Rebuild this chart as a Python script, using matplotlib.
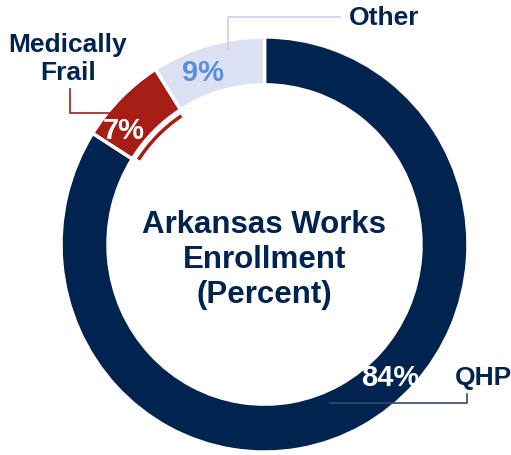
import numpy as np
import matplotlib.pyplot as plt
from matplotlib.patches import Arc

# data
labels = ['QHP', 'Medically Frail', 'Other']
values = [84, 7, 9]
colors = ['#00234f', '#a51d14', '#dbe1f2']
pct_colors = ['white', 'white', '#5b8fd6']
title = 'Arkansas Works\nEnrollment\n(Percent)'

W, H = 511, 455
S = 1.02  # the donut is a little taller than wide

fig = plt.figure(figsize=(W / 100, H / 100), dpi=100)
ax = fig.add_axes([0, 0, 1, 1])

plt.rcParams['font.family'] = ['Liberation Sans', 'DejaVu Sans']


def py(y):
    # pixel row (from top) to data y
    return (H - y) / S


cx, cy = 264.5, py(244.5)
R, width = 203.5, 47

wedges, _ = ax.pie(values, colors=colors, startangle=90, counterclock=False,
                   center=(cx, cy), radius=R, frame=True,
                   wedgeprops=dict(width=width, edgecolor='white', linewidth=2.5))
ax.set_xlim(0, W)
ax.set_ylim(0, H / S)
ax.set_aspect('auto')
ax.axis('off')

# thin red arc inside the medically frail slice
mf = wedges[1]
ax.add_patch(Arc((cx, cy), 2 * 151, 2 * 151, theta1=mf.theta1 + 1, theta2=mf.theta2 - 1,
                 color=colors[1], lw=2.5))

# percent labels
pct_pos = [(390, 378), (124, 131), (203, 73)]
for v, (x, y), c in zip(values, pct_pos, pct_colors):
    ax.text(x, py(y), f'{v}%', color=c, fontsize=21, fontweight='bold',
            ha='center', va='center')

# center text
ax.text(cx, py(260), title, color='#00234f', fontsize=22.5, fontweight='bold',
        ha='center', va='center', linespacing=1.22)

# category labels with connector lines
ax.text(483, py(378), labels[0], color='#00234f', fontsize=19, fontweight='bold',
        ha='center', va='center')
ax.plot([330, 467, 467], [py(403), py(403), py(394)], color='#2f4a6e', lw=1.2)

ax.text(68, py(59), 'Medically\nFrail', color='#00234f', fontsize=19, fontweight='bold',
        ha='center', va='center', linespacing=1.2)
ax.plot([70, 70, 112], [py(89), py(113), py(113)], color=colors[1], lw=1.2)

ax.text(384, py(18), labels[2], color='#00234f', fontsize=19, fontweight='bold',
        ha='center', va='center')
ax.plot([228, 228, 340], [py(50), py(17), py(17)], color='#c9d0e6', lw=1.2)

fig.savefig('out.png', dpi=100)
